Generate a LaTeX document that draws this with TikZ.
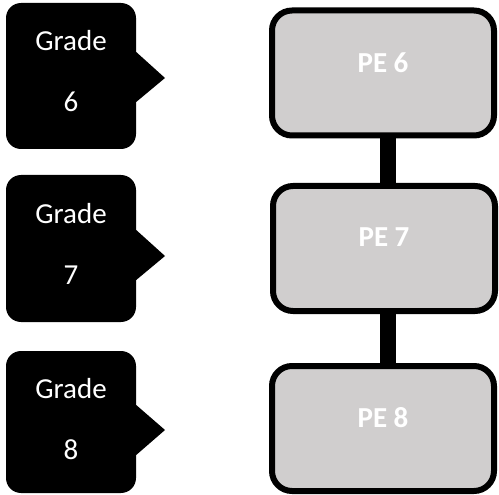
\documentclass[tikz,border=0pt]{standalone}
\usepackage{fontspec}
\setmainfont{Carlito}
\definecolor{boxgray}{HTML}{D0CECE}
\begin{document}
\begin{tikzpicture}[x=1pt,y=-1pt,
  gradebox/.style={fill=black,draw=none,rounded corners=15pt,minimum width=130pt,inner sep=0pt},
  gradetext/.style={text=white,font=\fontsize{29}{61}\selectfont,align=center},
  pebox/.style={fill=boxgray,draw=black,line width=6pt,rounded corners=20pt,minimum width=222pt,minimum height=125pt,inner sep=0pt},
  petext/.style={text=white,font=\bfseries\fontsize{29}{30}\selectfont},
  tri/.style={fill=black,draw=none},
  link/.style={line width=16pt,draw=black}]
\useasboundingbox (0,0) rectangle (499,495);
% grade boxes
\node[gradebox,minimum height=146pt,label={[gradetext,yshift=5pt]center:Grade\\6}] (g6) at (71,76) {};
\node[gradebox,minimum height=147pt,label={[gradetext,yshift=5pt]center:Grade\\7}] (g7) at (71,248.5) {};
\node[gradebox,minimum height=142pt,label={[gradetext,yshift=2.5pt]center:Grade\\8}] (g8) at (71,422) {};
% pointers
\coordinate (t6) at (165,78);
\coordinate (t7) at (165,256);
\coordinate (t8) at (165,430);
\fill[tri] (g6.east |- 0,52) -- (t6) -- (g6.east |- 0,102) -- cycle;
\fill[tri] (g7.east |- 0,230) -- (t7) -- (g7.east |- 0,280) -- cycle;
\fill[tri] (g8.east |- 0,405) -- (t8) -- (g8.east |- 0,455) -- cycle;
% PE boxes
\node[pebox,label={[petext,yshift=10pt]center:PE 6}] (pe6) at (383,73) {};
\node[pebox,label={[petext,yshift=11pt]center:PE 7}] (pe7) at (384,248.5) {};
\node[pebox,label={[petext,yshift=11pt]center:PE 8}] (pe8) at (383,428.5) {};
% connectors
\draw[link] ([xshift=5pt]pe6.south) -- ([xshift=4pt]pe7.north);
\draw[link] ([xshift=4pt]pe7.south) -- ([xshift=5pt]pe8.north);
\end{tikzpicture}
\end{document}
